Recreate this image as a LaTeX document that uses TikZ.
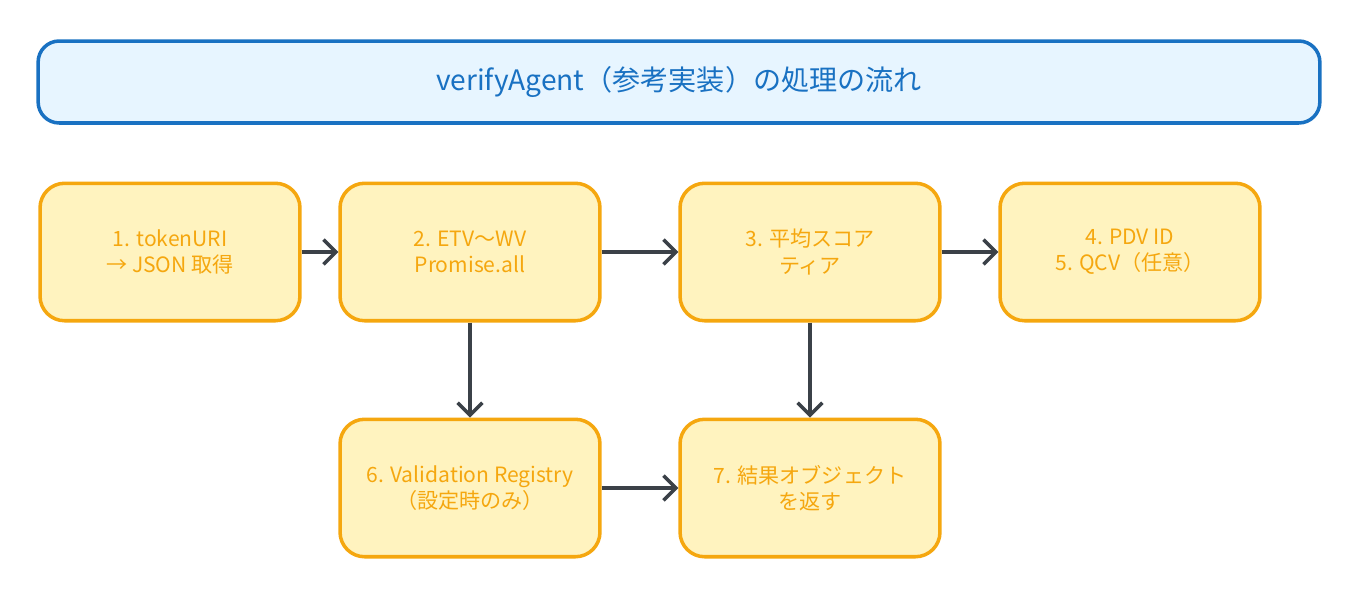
\documentclass[tikz,border=0pt]{standalone}
\usepackage{fontspec}
\setmainfont{Noto Sans CJK JP}
\usetikzlibrary{positioning,arrows.meta}
\definecolor{boxfill}{HTML}{FFF3BF}
\definecolor{boxline}{HTML}{F5A70F}
\definecolor{titlefill}{HTML}{E7F5FF}
\definecolor{titleline}{HTML}{1971C2}
\definecolor{arrowcol}{HTML}{3B4148}
\begin{document}
\begin{tikzpicture}[x=0.02cm,y=-0.02cm,
    stage/.style={draw=boxline, line width=2pt, fill=boxfill, rounded corners=14pt,
      minimum width=5.2cm, minimum height=2.75cm, text=boxline, align=center,
      font=\fontsize{12}{15}\selectfont},
    flow/.style={draw=arrowcol, line width=2pt, -{Straight Barb[length=7pt,width=14pt]}}]
  \useasboundingbox (0,0) rectangle (1360,600);
  % title banner
  \node[draw=titleline, line width=2pt, fill=titlefill, rounded corners=12pt,
    minimum width=25.64cm, minimum height=1.64cm, text=titleline,
    font=\fontsize{16}{19}\selectfont] (title) at (679,82)
    {verifyAgent（参考実装）の処理の流れ};
  % stages
  \node[stage] (tok) at (170,252) {1. tokenURI\\→ JSON 取得};
  \node[stage] (etv) at (470,252) {2. ETV〜WV\\Promise.all};
  \node[stage] (avg) at (810,252) {3. 平均スコア\\ティア};
  \node[stage] (pdv) at (1130,252) {4. PDV ID\\5. QCV（任意）};
  \node[stage] (reg) at (470,488) {6. Validation Registry\\（設定時のみ）};
  \node[stage] (res) at (810,488) {7. 結果オブジェクト\\を返す};
  % connectors
  \draw[flow] (tok) -- (etv);
  \draw[flow] (etv) -- (avg);
  \draw[flow] (avg) -- (pdv);
  \draw[flow] (etv) -- (reg);
  \draw[flow] (avg) -- (res);
  \draw[flow] (reg) -- (res);
\end{tikzpicture}
\end{document}
